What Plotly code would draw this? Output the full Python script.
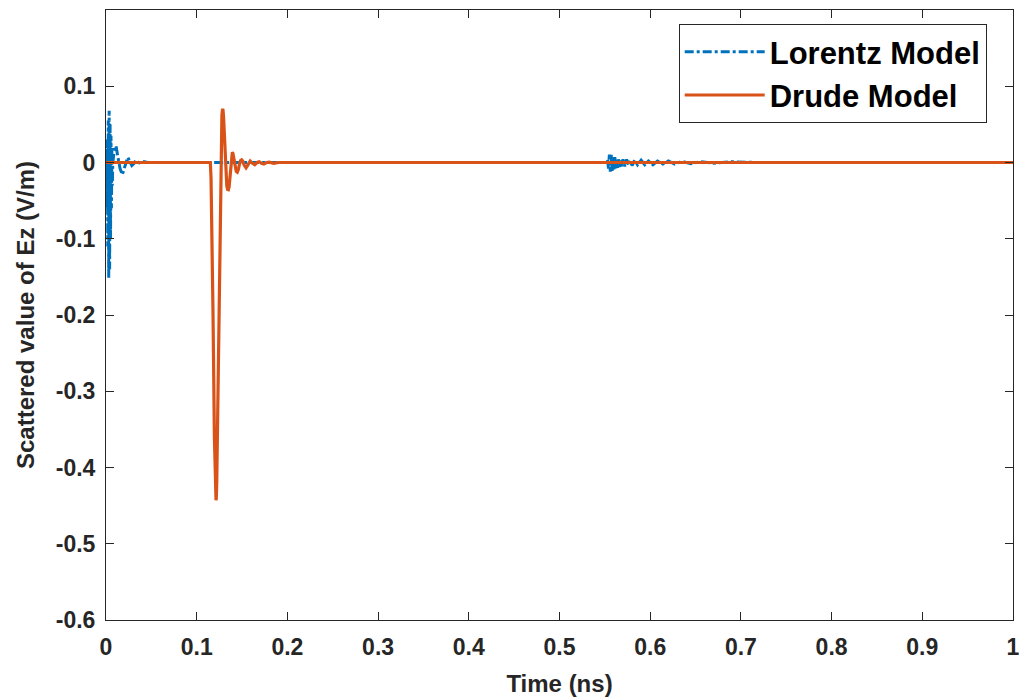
import plotly.graph_objects as go

# ---- data ----
lorentz_t = [0, 0.001, 0.0015, 0.002, 0.0025, 0.003, 0.0035, 0.004, 0.0045, 0.005,
             0.0055, 0.006, 0.0065, 0.007, 0.0075, 0.009, 0.011, 0.013, 0.0155, 0.018,
             0.0205, 0.0225, 0.024, 0.026, 0.0285, 0.031, 0.033, 0.036, 0.039, 0.042,
             0.046, 0.1, 0.2, 0.3, 0.4, 0.5, 0.552,
             0.553, 0.554, 0.555, 0.556, 0.557, 0.558, 0.559, 0.560, 0.561, 0.562,
             0.563, 0.564, 0.565, 0.566, 0.567, 0.568, 0.570, 0.572, 0.574, 0.576,
             0.578, 0.580, 0.583, 0.586, 0.590, 0.594, 0.598, 0.603, 0.608, 0.614,
             0.620, 0.627, 0.635, 0.645, 0.655, 0.670, 0.690, 0.720, 0.8, 0.9, 1.0]
lorentz_ez = [0, -0.06, 0.03, -0.11, 0.055, -0.151, 0.068, -0.14, 0.05, -0.10,
              0.035, -0.06, 0.02, -0.03, 0.0, 0.015, 0.022, 0.008, -0.008, -0.016,
              -0.006, 0.004, 0.007, 0.002, -0.004, -0.001, 0.003, 0.0, -0.002, 0.001,
              0.0, 0.0, 0.0, 0.0, 0.0, 0.0, 0.0,
              0.004, -0.008, 0.0105, -0.012, 0.010, -0.011, 0.008, -0.010, 0.007, -0.008,
              0.006, -0.007, 0.005, -0.006, 0.005, -0.005, 0.004, -0.005, 0.004, -0.004,
              0.003, -0.004, 0.003, -0.003, 0.003, -0.003, 0.002, -0.003, 0.002, -0.002,
              0.002, -0.002, 0.0015, -0.0015, 0.001, -0.001, 0.001, 0.0, 0.0, 0.0, 0.0]

drude_t = [0, 0.1, 0.115, 0.1158, 0.1168, 0.118, 0.1195, 0.1205, 0.1210, 0.1213,
           0.1216, 0.1221, 0.1232, 0.1245, 0.126, 0.1270, 0.1278, 0.1284, 0.1287, 0.1290,
           0.1296, 0.1305, 0.1313, 0.1322, 0.1332, 0.1341, 0.1349, 0.1357, 0.1367, 0.1378,
           0.1387, 0.1393, 0.1399, 0.1410, 0.1422, 0.1436, 0.1448, 0.1460, 0.1472, 0.1484,
           0.1496, 0.1508, 0.1522, 0.1535, 0.1544, 0.1555, 0.1570, 0.1590, 0.1615, 0.164,
           0.1665, 0.169, 0.1715, 0.174, 0.177, 0.18, 0.185, 0.19, 1.0]
drude_ez = [0, 0, 0, -0.02, -0.09, -0.2, -0.36, -0.425, -0.440, -0.443,
            -0.440, -0.42, -0.32, -0.17, -0.03, 0.035, 0.062, 0.069, 0.0704, 0.069,
            0.060, 0.035, 0.008, -0.017, -0.031, -0.0355, -0.0358, -0.032, -0.018, 0.002,
            0.0115, 0.0135, 0.012, 0.004, -0.005, -0.0115, -0.0127, -0.009, -0.002, 0.0025,
            0.0035, 0.002, -0.003, -0.0065, -0.007, -0.005, -0.001, 0.002, -0.001, -0.003,
            0.0, 0.001, -0.001, -0.002, 0.0, 0.0005, -0.001, 0.0, 0.0]

x_ticks = [0, 0.1, 0.2, 0.3, 0.4, 0.5, 0.6, 0.7, 0.8, 0.9, 1]
x_tick_labels = ["0", "0.1", "0.2", "0.3", "0.4", "0.5", "0.6", "0.7", "0.8", "0.9", "1"]
y_ticks = [-0.6, -0.5, -0.4, -0.3, -0.2, -0.1, 0, 0.1]
y_tick_labels = ["-0.6", "-0.5", "-0.4", "-0.3", "-0.2", "-0.1", "0", "0.1"]

BLUE = "#0072BD"
ORANGE = "#D95319"
AX = "#262626"
FONT = "Liberation Sans"

fig = go.Figure()
fig.add_trace(go.Scatter(x=lorentz_t, y=lorentz_ez, mode="lines", name="Lorentz Model",
                         line=dict(color=BLUE, width=3, dash="dashdot")))
fig.add_trace(go.Scatter(x=drude_t, y=drude_ez, mode="lines", name="Drude Model",
                         line=dict(color=ORANGE, width=3.2)))

axis_common = dict(showgrid=False, zeroline=False, showline=True, linecolor=AX, linewidth=1,
                   mirror="ticks", ticks="inside", ticklen=8, tickcolor=AX, tickwidth=1,
                   automargin=False, ticklabeloverflow="allow",
                   tickfont=dict(family=FONT, size=23, color=AX, weight="bold"))

fig.update_layout(
    width=1019, height=698,
    margin=dict(l=106, r=6, t=10, b=78),
    paper_bgcolor="white", plot_bgcolor="white",
    xaxis=dict(range=[0, 1], tickvals=x_ticks, ticktext=x_tick_labels, ticklabelstandoff=6,
               title=dict(text="Time (ns)", font=dict(family=FONT, size=24, color=AX, weight="bold"),
                          standoff=16),
               **axis_common),
    yaxis=dict(range=[-0.6, 0.2], tickvals=y_ticks, ticktext=y_tick_labels, ticklabelstandoff=5,
               title=dict(text="Scattered value of Ez (V/m)",
                          font=dict(family=FONT, size=24, color=AX, weight="bold"), standoff=14),
               **axis_common),
    legend=dict(x=0.971, y=0.977, xanchor="right", yanchor="top",
                bgcolor="white", bordercolor=AX, borderwidth=1,
                font=dict(family=FONT, size=31, color="black", weight="bold"),
                itemwidth=80, tracegroupgap=0),
    showlegend=True,
)

fig.write_html("out.html", config={"displayModeBar": False},
               post_script="document.body.style.margin='0px';document.body.style.overflow='hidden';")
